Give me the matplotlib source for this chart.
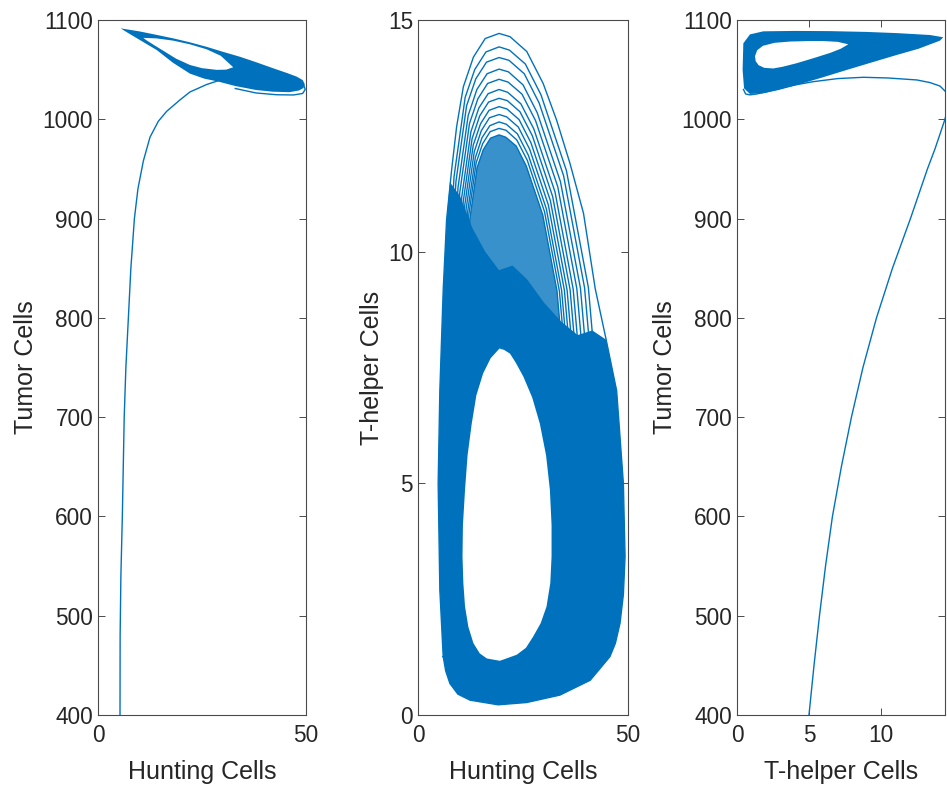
import matplotlib.pyplot as plt

plt.rcParams["font.family"] = ["Liberation Sans", "DejaVu Sans"]

BLUE = "#0072BD"
GREY = "#262626"

# ---------------- panel 1: Hunting Cells vs Tumor Cells ----------------
p1_path_x = [5.29, 5.32, 5.5, 5.85, 6.3, 6.7, 7.3, 7.9, 8.75, 9.6, 10.9, 12.5, 14.5, 16.5, 19.7,
             22.1, 26.1, 29.0, 32.0]
p1_path_y = [400, 480, 540, 600, 700, 750, 800, 850, 900, 930, 958, 982, 998, 1008, 1019.5,
             1027.5, 1035, 1039, 1042]

p1_band_x = [5.45, 10.0, 14.1, 18.1, 22.1, 26.1, 30.0, 34.1, 38.0, 42.1, 45.5, 47.8, 49.2, 49.7,
             49.4, 48.3, 46.0, 42.0, 38.0, 33.0, 28.9, 25.5, 22.1, 18.0, 14.1, 10.0, 7.0]
p1_band_y = [1091.6, 1088.5, 1085.0, 1081.5, 1077.5, 1073.0, 1068.0, 1063.0, 1057.5, 1051.4, 1046.5, 1042.9, 1039.5, 1035.5,
             1031.5, 1029.0, 1027.3, 1027.8, 1029.5, 1033.5, 1038.0, 1041.0, 1046.0, 1057.0, 1069.8, 1080.0, 1087.5]

p1_hole_x = [10.9, 14.0, 18.1, 22.1, 26.1, 29.5, 32.5, 30.8, 28.5, 25.0, 22.1, 18.8, 15.7, 13.0, 11.5]
p1_hole_y = [1082.0, 1081.5, 1079.2, 1075.5, 1070.5, 1064.0, 1052.4, 1050.0, 1049.8, 1051.5, 1054.7, 1061.0, 1069.0, 1076.0, 1080.0]

p1_loop_x = [33.0, 38.0, 43.0, 47.0, 49.2, 49.8, 49.5]
p1_loop_y = [1031.0, 1026.5, 1024.7, 1024.5, 1026.0, 1030.0, 1034.0]

# ---------------- panel 2: Hunting Cells vs T-helper Cells ----------------
p2_outer_x = [6.0, 5.2, 4.8, 5.2, 6.0, 6.8, 8.0, 9.2, 10.8, 13.2, 16.0, 19.3, 21.9, 25.9, 29.8, 33.0,
              36.2, 39.4, 42.2, 44.8, 47.3, 48.9, 49.3, 48.9, 48.1, 47.0, 45.7, 41.0, 33.8, 25.9, 19.1,
              12.4, 9.5, 7.6, 6.6, 6.0]
p2_outer_y = [1.26, 2.7, 5.0, 7.0, 9.17, 10.68, 11.76, 12.7, 13.56, 14.2, 14.6, 14.71, 14.64, 14.32, 13.63, 12.84,
              11.9, 10.83, 9.2, 8.1, 7.0, 5.0, 3.42, 2.6, 1.98, 1.55, 1.26, 0.75, 0.43, 0.27, 0.22,
              0.32, 0.45, 0.68, 0.95, 1.26]

# dense part of the band (below the separated loop tops)
p2_dense_x = [6.0, 5.2, 4.8, 5.2, 6.0, 6.8, 7.6, 10.0, 13.0, 16.0, 19.3, 22.5, 26.0, 30.0, 34.0, 38.0,
              41.5, 44.8, 47.3, 48.9, 49.3, 48.9, 48.1, 47.0, 45.7, 41.0, 33.8, 25.9, 19.1, 12.4, 9.5,
              7.6, 6.6]
p2_dense_y = [1.26, 2.7, 5.0, 7.0, 9.17, 10.68, 11.5, 11.2, 10.5, 10.0, 9.6, 9.7, 9.4, 8.9, 8.5, 8.2,
              8.3, 8.1, 7.0, 5.0, 3.42, 2.6, 1.98, 1.55, 1.26, 0.75, 0.43, 0.27, 0.22, 0.32, 0.45,
              0.68, 0.95]

p2_hole_x = [19.4, 17.3, 15.5, 13.9, 12.8, 11.8, 11.2, 10.7, 10.6, 10.8, 11.2, 12.0, 13.2, 14.7, 16.4, 19.5,
             23.5, 25.7, 27.4, 29.2, 30.6, 31.5, 31.8, 31.8, 31.4, 30.5, 29.0, 27.2, 25.1, 23.3, 21.9, 20.5]
p2_hole_y = [7.91, 7.7, 7.37, 6.9, 6.29, 5.6, 4.86, 4.1, 3.42, 2.85, 2.34, 1.9, 1.55, 1.33, 1.22, 1.17,
             1.30, 1.45, 1.69, 1.98, 2.34, 2.85, 3.42, 4.1, 4.86, 5.6, 6.29, 6.85, 7.30, 7.6, 7.80, 7.88]

# tops of the inner loops, outermost first
p2_arcs_x = [
    [7.06, 8.58, 11.23, 13.51, 16.17, 19.3, 21.77, 25.56, 29.26, 35.34, 40.56, 43.5],
    [7.57, 9.03, 11.57, 13.76, 16.3, 19.3, 21.66, 25.3, 28.84, 34.66, 39.66, 42.48],
    [8.14, 9.53, 11.95, 14.02, 16.45, 19.3, 21.55, 25.01, 28.38, 33.92, 38.68, 41.36],
    [8.63, 9.95, 12.27, 14.26, 16.57, 19.3, 21.45, 24.76, 27.98, 33.28, 37.82, 40.39],
    [9.13, 10.4, 12.6, 14.49, 16.7, 19.3, 21.35, 24.5, 27.57, 32.62, 36.95, 39.39],
    [9.56, 10.77, 12.88, 14.69, 16.81, 19.3, 21.26, 24.28, 27.23, 32.06, 36.21, 38.55],
    [9.97, 11.13, 13.15, 14.89, 16.91, 19.3, 21.18, 24.07, 26.89, 31.52, 35.5, 37.74],
    [10.35, 11.46, 13.4, 15.07, 17.01, 19.3, 21.1, 23.88, 26.59, 31.03, 34.85, 37.0],
    [10.72, 11.79, 13.65, 15.24, 17.11, 19.3, 21.03, 23.69, 26.28, 30.54, 34.2, 36.26],
    [11.03, 12.06, 13.85, 15.39, 17.18, 19.3, 20.97, 23.53, 26.03, 30.13, 33.66, 35.65],
    [11.35, 12.34, 14.06, 15.54, 17.27, 19.3, 20.9, 23.37, 25.77, 29.71, 33.1, 35.01],
]
p2_arcs_y = [
    [9.23, 11.62, 13.33, 13.93, 14.31, 14.42, 14.35, 14.05, 13.39, 11.75, 9.23, 6.15],
    [9.22, 11.51, 13.15, 13.73, 14.09, 14.19, 14.13, 13.84, 13.21, 11.64, 9.22, 6.27],
    [9.21, 11.39, 12.94, 13.5, 13.84, 13.94, 13.88, 13.6, 13.0, 11.51, 9.21, 6.4],
    [9.2, 11.28, 12.77, 13.3, 13.63, 13.72, 13.66, 13.4, 12.83, 11.4, 9.2, 6.52],
    [9.19, 11.17, 12.59, 13.1, 13.41, 13.5, 13.44, 13.19, 12.65, 11.29, 9.19, 6.64],
    [9.18, 11.08, 12.44, 12.93, 13.23, 13.31, 13.26, 13.02, 12.5, 11.19, 9.18, 6.73],
    [9.17, 11.0, 12.3, 12.76, 13.05, 13.13, 13.08, 12.85, 12.35, 11.1, 9.17, 6.83],
    [9.17, 10.92, 12.16, 12.61, 12.89, 12.96, 12.91, 12.69, 12.21, 11.01, 9.17, 6.92],
    [9.16, 10.84, 12.03, 12.46, 12.72, 12.8, 12.75, 12.54, 12.08, 10.93, 9.16, 7.0],
    [9.15, 10.77, 11.92, 12.33, 12.59, 12.66, 12.62, 12.41, 11.97, 10.86, 9.15, 7.08],
    [9.15, 10.7, 11.81, 12.2, 12.45, 12.52, 12.47, 12.28, 11.85, 10.79, 9.15, 7.15],
]

# ---------------- panel 3: T-helper Cells vs Tumor Cells ----------------
p3_path_x = [5.0, 5.35, 5.73, 6.15, 6.63, 7.25, 7.95, 8.75, 9.69, 10.8, 12.05, 13.23, 13.75, 14.1, 14.4,
             14.6, 14.68, 14.55, 14.1, 13.4, 12.5, 10.5, 8.77, 7.0, 5.3, 4.0, 3.0, 2.0, 1.37, 0.9, 0.6, 0.45]
p3_path_y = [400, 450, 500, 550, 600, 650, 700, 750, 800, 850, 900, 950, 970, 985, 998,
             1008, 1018, 1027, 1033.5, 1037, 1039.6, 1041.6, 1042.3, 1041, 1037.9, 1034.5, 1031.2, 1027.5, 1025.5, 1024.6, 1025.5, 1030]

p3_band_x = [0.39, 0.44, 0.9, 1.83, 4.0, 6.46, 9.0, 11.1, 13.4, 14.33, 14.1, 12.6, 11.1, 9.3, 7.6, 5.9,
             4.15, 2.9, 1.83, 0.9, 0.49]
p3_band_y = [1049.6, 1076.5, 1085.5, 1088.6, 1089.0, 1088.8, 1088.0, 1086.8, 1084.9, 1082.6, 1079.2, 1071.0, 1064.8, 1057.0, 1049.6, 1042.0,
             1034.5, 1029.5, 1026.2, 1025.5, 1031.2]

p3_hole_x = [1.25, 1.4, 1.8, 2.6, 3.68, 5.0, 5.99, 7.0, 7.73, 7.2, 6.46, 5.3, 4.15, 3.2, 2.52, 1.9, 1.5, 1.3]
p3_hole_y = [1063.5, 1069.5, 1074.0, 1077.0, 1078.3, 1078.8, 1078.8, 1078.0, 1075.5, 1071.0, 1066.8, 1061.5, 1056.5, 1053.0, 1051.2, 1051.8, 1054.5, 1058.5]

W, H = 947, 787
fig = plt.figure(figsize=(W / 100, H / 100), dpi=100)

ax1 = fig.add_axes([98 / W, 72 / H, 208 / W, 695 / H])
ax2 = fig.add_axes([418 / W, 72 / H, 210 / W, 695 / H])
ax3 = fig.add_axes([737 / W, 72 / H, 208 / W, 695 / H])

# panel 1
ax1.fill(p1_band_x, p1_band_y, color=BLUE, lw=0)
ax1.fill(p1_hole_x, p1_hole_y, color="white", lw=0)
ax1.plot(p1_path_x, p1_path_y, color=BLUE, lw=1.0)
ax1.plot(p1_loop_x, p1_loop_y, color=BLUE, lw=1.0)
ax1.set_xlim(0, 50)
ax1.set_ylim(400, 1100)
ax1.set_xticks([0, 50])
ax1.set_yticks(range(400, 1101, 100))
ax1.set_xlabel("Hunting Cells")
ax1.set_ylabel("Tumor Cells")

# panel 2
last = len(p2_arcs_x) - 1
ax2.fill(p2_arcs_x[last], p2_arcs_y[last], color=BLUE, alpha=0.78, lw=0)
ax2.fill(p2_dense_x, p2_dense_y, color=BLUE, lw=0)
ax2.fill(p2_hole_x, p2_hole_y, color="white", lw=0)
for ax_, ay_ in zip(p2_arcs_x, p2_arcs_y):
    ax2.plot(ax_, ay_, color=BLUE, lw=1.0)
ax2.plot(p2_outer_x, p2_outer_y, color=BLUE, lw=1.0)
ax2.set_xlim(0, 50)
ax2.set_ylim(0, 15)
ax2.set_xticks([0, 50])
ax2.set_yticks([0, 5, 10, 15])
ax2.set_xlabel("Hunting Cells")
ax2.set_ylabel("T-helper Cells")

# panel 3
ax3.fill(p3_band_x, p3_band_y, color=BLUE, lw=0)
ax3.fill(p3_hole_x, p3_hole_y, color="white", lw=0)
ax3.plot(p3_path_x, p3_path_y, color=BLUE, lw=1.0)
ax3.set_xlim(0, 14.45)
ax3.set_ylim(400, 1100)
ax3.set_xticks([0, 5, 10])
ax3.set_yticks(range(400, 1101, 100))
ax3.set_xlabel("T-helper Cells")
ax3.set_ylabel("Tumor Cells")

for ax in (ax1, ax2, ax3):
    ax.tick_params(direction="in", length=5, width=0.7, top=True, right=True,
                   labelsize=16.3, colors="#4a4a4a", labelcolor=GREY)
    ax.tick_params(axis="x", pad=6.5)
    ax.xaxis.label.set_size(18)
    ax.yaxis.label.set_size(18)
    ax.xaxis.labelpad = 9
    ax.yaxis.labelpad = 3
    ax.xaxis.label.set_color(GREY)
    ax.yaxis.label.set_color(GREY)
    for s in ax.spines.values():
        s.set_linewidth(0.8)
        s.set_color("#4a4a4a")

fig.savefig("out.png", dpi=100)
